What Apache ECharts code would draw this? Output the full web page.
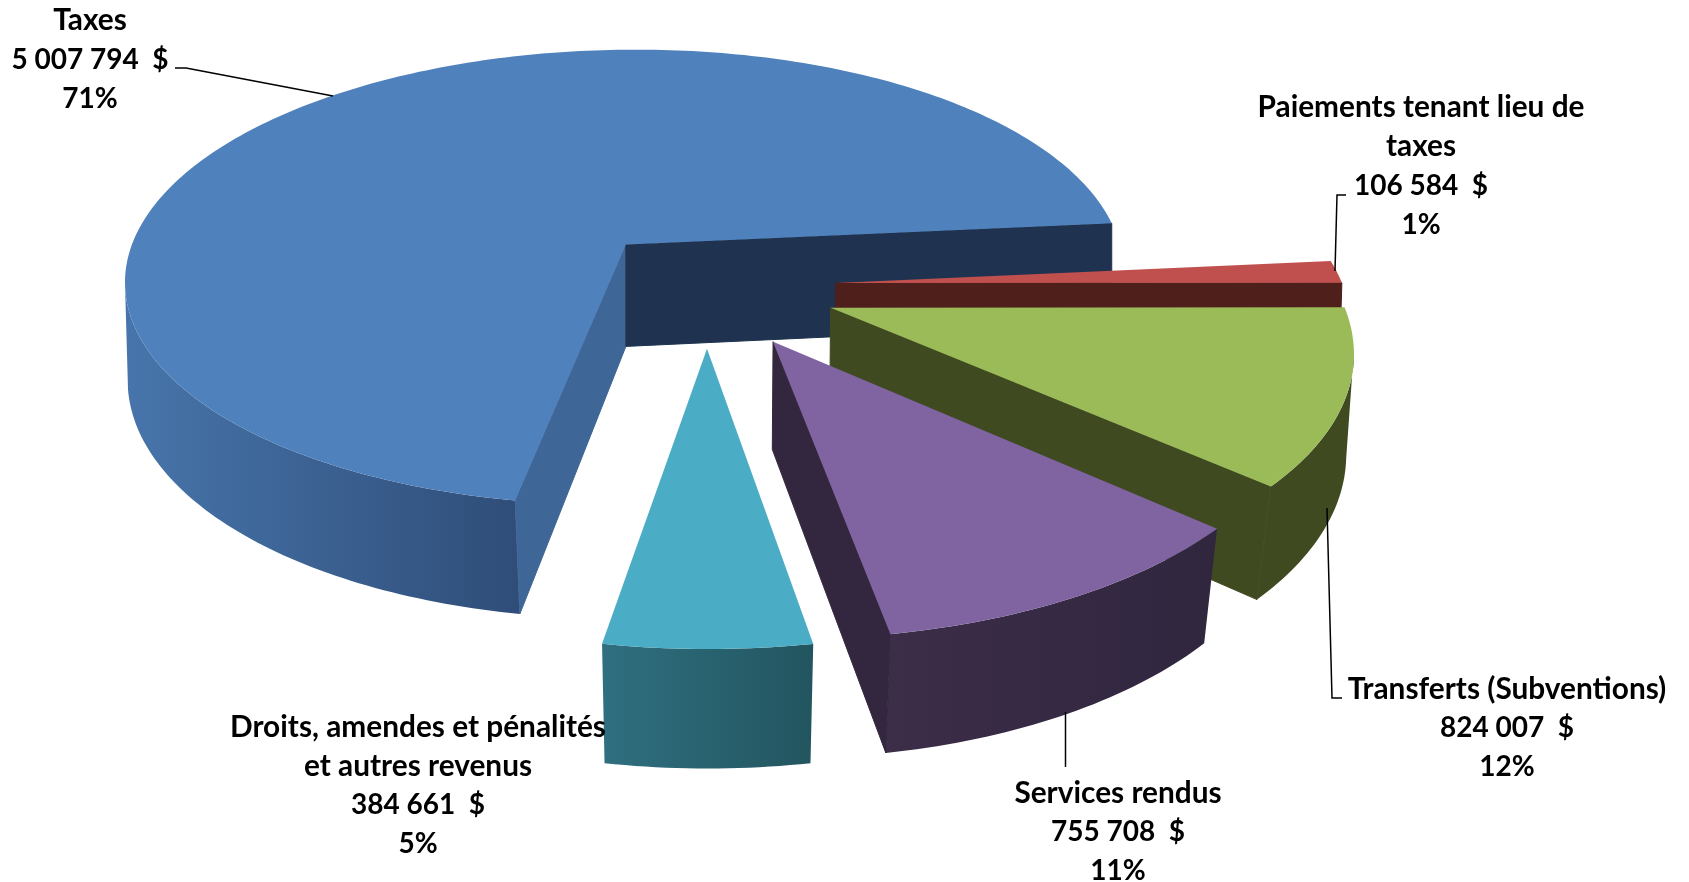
<!DOCTYPE html>
<html>
<head>
<meta charset="utf-8">
<title>Revenus</title>
<script src="https://cdn.jsdelivr.net/npm/echarts@6/dist/echarts.min.js"></script>
<style>
  html, body { margin: 0; padding: 0; background: #fff; }
  #chart { width: 1689px; height: 882px; }
</style>
</head>
<body>
<div id="chart"></div>
<script>
// Chart data, clockwise from the Taxes slice
const categories = [
    'Taxes',
    'Paiements tenant lieu de\ntaxes',
    'Transferts (Subventions)',
    'Services rendus',
    'Droits, amendes et pénalités\net autres revenus'
];
const amounts = [5007794, 106584, 824007, 755708, 384661];
const percentLabels = ['71%', '1%', '12%', '11%', '5%'];

// Colours per slice
const topColors = ['#4F81BD', '#C0504D', '#9BBB59', '#8064A2', '#4BACC6'];
const startWallColors = ['#3E6696', '#4F1F1C', '#3F4A21', '#33273F', '#22555F'];
const endWallColors = ['#1F3350', '#4F1F1C', '#3F4A21', '#33273F', '#22555F'];
const rimColors = [
    ['#4775AB', '#2F4D78'],
    ['#4F1F1C', '#4F1F1C'],
    ['#3F4A21', '#3F4A21'],
    ['#3C2D49', '#30263E'],
    ['#2F6F80', '#22555F']
];
const explode = [0.232, 0.262, 0.265, 0.27, 0.26];
const nudgeX = [0.003, 0.002, 0.002, 0.004, 0.009];
const nudgeY = [0, 0.012, 0.008, 0.004, 0.008];

// Fake 3D camera, fitted by eye on the picture
const START_ANGLE = 99.8;
const CX = 702.3, CY = 283.3;
const RADIUS = 506.3, DEPTH = 234.3, THICK = 104.5;
const PERSPECTIVE = 0.148, FLOOR_SHRINK = 0.025;

function project(x, y, z) {
    const s = 1 / (1 - PERSPECTIVE * y);
    // vertical edges lean in more the closer they are to the viewer
    const lean = Math.min(1, Math.max(0, 0.2 + y));
    const shrink = 1 - FLOOR_SHRINK * lean * z;
    return [CX + RADIUS * x * s * shrink, CY + DEPTH * y * s * shrink + THICK * z * s];
}

const total = amounts.reduce((a, b) => a + b, 0);

function renderSlice(params, api) {
    const i = params.dataIndex;
    let before = 0;
    for (let k = 0; k < i; k++) before += amounts[k];
    const a = (START_ANGLE + before / total * 360) * Math.PI / 180;
    const b = a + api.value(0) / total * 2 * Math.PI;
    const mid = (a + b) / 2;
    const ox = explode[i] * Math.cos(mid) + nudgeX[i];
    const oy = explode[i] * Math.sin(mid) + nudgeY[i];

    const steps = Math.max(4, Math.round((b - a) * 180 / Math.PI));
    const angles = [];
    for (let k = 0; k <= steps; k++) angles.push(a + (b - a) * k / steps);
    const onRim = (t, z) => project(ox + Math.cos(t), oy + Math.sin(t), z);

    const apexTop = project(ox, oy, 0);
    const apexBottom = project(ox, oy, 1);
    const midPoint = onRim(mid, 0);
    const children = [];

    // outer curved wall, only between the silhouette points
    const rim = angles.filter(t => Math.sin(t) > 0.17);
    if (rim.length > 1) {
        const points = rim.map(t => onRim(t, 0)).concat(rim.slice().reverse().map(t => onRim(t, 1)));
        children.push({
            type: 'polygon',
            shape: { points: points },
            style: {
                fill: {
                    type: 'linear', x: 0, y: 0, x2: 1, y2: 0,
                    colorStops: [
                        { offset: 0, color: rimColors[i][0] },
                        { offset: 1, color: rimColors[i][1] }
                    ]
                }
            }
        });
    }

    // the two cut walls, skipped when they are turned away
    [[a, startWallColors[i]], [b, endWallColors[i]]].forEach(wall => {
        const edgeTop = onRim(wall[0], 0);
        const edgeBottom = onRim(wall[0], 1);
        const ex = edgeTop[0] - apexTop[0], ey = edgeTop[1] - apexTop[1];
        const downSide = ex * (apexBottom[1] - apexTop[1]) - ey * (apexBottom[0] - apexTop[0]);
        const insideSide = ex * (midPoint[1] - apexTop[1]) - ey * (midPoint[0] - apexTop[0]);
        if (downSide * insideSide < 0) {
            children.push({
                type: 'polygon',
                shape: { points: [apexTop, edgeTop, edgeBottom, apexBottom] },
                style: { fill: wall[1], stroke: wall[1], lineWidth: 1 }
            });
        }
    });

    // top face
    children.push({
        type: 'polygon',
        shape: { points: [apexTop].concat(angles.map(t => onRim(t, 0))) },
        style: { fill: topColors[i] }
    });

    return { type: 'group', children: children };
}

function formatAmount(v) {
    return String(v).replace(/\B(?=(\d{3})+(?!\d))/g, ' ') + '  $';
}

// Label centres and leader lines
const labelCenters = [[90, 20.5], [1421, 107.5], [1507, 689], [1118, 793], [418, 727]];
const leaderLines = [
    [[175, 68], [186, 68], [333, 96]],
    [[1346, 195], [1337, 195], [1335, 271]],
    [[1327, 508], [1332, 698], [1342, 698]],
    [[1065.5, 712], [1065.5, 767]]
];

const LINE_H = 39;
const labelElements = categories.map((name, i) => {
    const nameLines = name.split('\n').map(line => '{n|' + line + '}');
    return {
        type: 'text',
        silent: true,
        z: 10,
        style: {
            x: labelCenters[i][0],
            y: labelCenters[i][1] - LINE_H / 2,
            text: nameLines.join('\n') + '\n{v|' + formatAmount(amounts[i]) + '}\n{v|' + percentLabels[i] + '}',
            align: 'center',
            verticalAlign: 'top',
            rich: {
                n: { font: 'bold 29.8px Lato, "Open Sans", sans-serif', lineHeight: LINE_H, fill: '#000', align: 'center' },
                v: { font: 'bold 28px Lato, "Open Sans", sans-serif', lineHeight: LINE_H, fill: '#000', align: 'center' }
            }
        }
    };
});
const leaderElements = leaderLines.map(points => ({
    type: 'polyline',
    silent: true,
    z: 10,
    shape: { points: points },
    style: { stroke: '#000', lineWidth: 1.5, fill: 'none' }
}));

const chart = echarts.init(document.getElementById('chart'));
chart.setOption({
    animation: false,
    backgroundColor: '#fff',
    series: [{
        type: 'custom',
        coordinateSystem: 'none',
        silent: true,
        clip: false,
        data: amounts.map(v => [v]),
        renderItem: renderSlice
    }],
    graphic: { elements: leaderElements.concat(labelElements) }
});
</script>
</body>
</html>
